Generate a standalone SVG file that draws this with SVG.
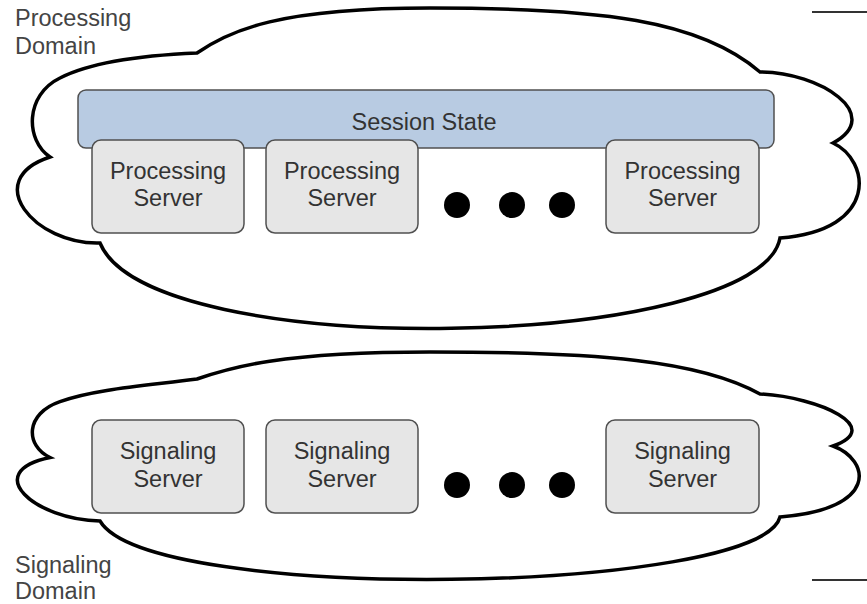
<svg xmlns="http://www.w3.org/2000/svg" width="867" height="604" viewBox="0 0 867 604">
<style>
.cloud{fill:#fff;stroke:#000;stroke-width:3.5;stroke-linejoin:miter}
.box{fill:#e6e6e6;stroke:#505050;stroke-width:1.5}
.bar{fill:#b8cbe2;stroke:#505050;stroke-width:1.5}
.t{font-family:"Liberation Sans",Arial,sans-serif;font-size:23.5px;fill:#333;text-anchor:middle}
.lbl{font-family:"Liberation Sans",Arial,sans-serif;font-size:23.5px;fill:#444}
.dot{fill:#000}
.edge{stroke:#333;stroke-width:2;fill:none}
</style>
<rect width="867" height="604" fill="#fff"/>
<g id="processing-domain">
<path class="cloud" d="M197,53 C230,30 280,8 430,8 C600,8 700,20 760,72 C820,72 885,115 833,143 C870,160 880,230 780,238 C760,350 150,365 100,243 C35,245 -20,180 50,157 C25,140 25,95 60,78 C95,60 150,55 197,53 Z"/>
<text class="lbl" x="15" y="26">Processing</text>
<text class="lbl" x="15" y="54">Domain</text>
</g>
<g id="signaling-domain">
<path class="cloud" d="M197,379 C230,367.6 280,352 430,352 C600,352 700,360.5 760,394 C820,397.3 885,427.8 833,446 C870,459.6 880,509.2 780,517 C760,594 150,604.8 100,521 C35,519.8 -20,472 50,457.5 C25,445.5 25,413.6 60,401.6 C95,388.8 150,385.3 197,379 Z"/>
<text class="lbl" x="15" y="573">Signaling</text>
<text class="lbl" x="15" y="599">Domain</text>
</g>
<g id="session-state">
<rect class="bar" x="78" y="90" width="696" height="58" rx="8"/>
<text class="t" x="424" y="130">Session State</text>
</g>
<g id="processing-server-1">
<rect class="box" x="92" y="140" width="152" height="93" rx="9"/>
<text class="t" x="168" y="179">Processing</text>
<text class="t" x="168" y="206">Server</text>
</g>
<g id="processing-server-2">
<rect class="box" x="266" y="140" width="152" height="93" rx="9"/>
<text class="t" x="342" y="179">Processing</text>
<text class="t" x="342" y="206">Server</text>
</g>
<g id="processing-ellipsis">
<circle class="dot" cx="457" cy="205" r="13"/>
<circle class="dot" cx="512" cy="205" r="13"/>
<circle class="dot" cx="562" cy="205" r="13"/>
</g>
<g id="processing-server-n">
<rect class="box" x="606" y="140" width="153" height="93" rx="9"/>
<text class="t" x="682.5" y="179">Processing</text>
<text class="t" x="682.5" y="206">Server</text>
</g>
<g id="signaling-server-1">
<rect class="box" x="92" y="420" width="152" height="93" rx="9"/>
<text class="t" x="168" y="459">Signaling</text>
<text class="t" x="168" y="487">Server</text>
</g>
<g id="signaling-server-2">
<rect class="box" x="266" y="420" width="152" height="93" rx="9"/>
<text class="t" x="342" y="459">Signaling</text>
<text class="t" x="342" y="487">Server</text>
</g>
<g id="signaling-ellipsis">
<circle class="dot" cx="457" cy="485" r="13"/>
<circle class="dot" cx="512" cy="485" r="13"/>
<circle class="dot" cx="562" cy="485" r="13"/>
</g>
<g id="signaling-server-n">
<rect class="box" x="606" y="420" width="153" height="93" rx="9"/>
<text class="t" x="682.5" y="459">Signaling</text>
<text class="t" x="682.5" y="487">Server</text>
</g>
<g id="connectors">
<line class="edge" x1="812" y1="12" x2="867" y2="12"/>
<line class="edge" x1="812" y1="580" x2="867" y2="580"/>
</g>
</svg>
